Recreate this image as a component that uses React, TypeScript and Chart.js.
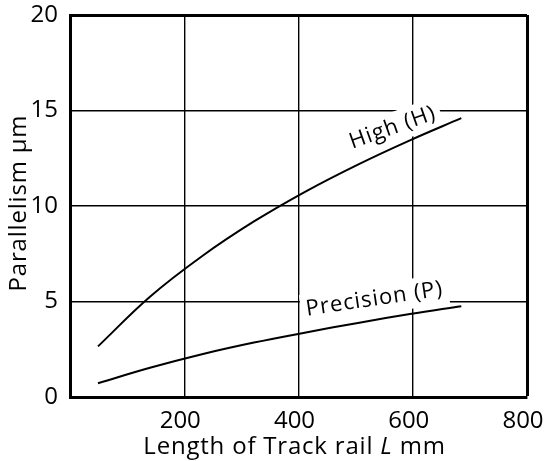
import React, { useEffect, useRef } from "react";
import { Chart, registerables } from "chart.js";

Chart.register(...registerables);

// Data
const trackLengths = [49, 140, 231, 322, 413, 504, 595, 685];
const highValues = [2.65, 5.25, 7.37, 9.19, 10.77, 12.17, 13.44, 14.6];
const precisionValues = [0.72, 1.53, 2.24, 2.85, 3.38, 3.88, 4.34, 4.75];
const xTicks = [200, 400, 600, 800];
const yTicks = [0, 5, 10, 15, 20];
const seriesNames = ["High (H)", "Precision (P)"];

const FONT = '"Open Sans", "Noto Sans", sans-serif';

const curveLabels = [
  { text: seriesNames[0], x: 565, y: 14.1, angle: 19.5 },
  { text: seriesNames[1], x: 533, y: 5.12, angle: 8.5 },
];

const curveLabelPlugin = {
  id: "curveLabels",
  beforeDatasetsDraw(chart: any) {
    const { ctx, scales } = chart;
    const xs = scales.x;
    const ys = scales.y;
    curveLabels.forEach((l) => {
      const px = xs.getPixelForValue(l.x);
      const py = ys.getPixelForValue(l.y);
      ctx.save();
      ctx.translate(px, py);
      ctx.rotate((-l.angle * Math.PI) / 180);
      ctx.font = `22px ${FONT}`;
      (ctx as any).letterSpacing = "1px";
      const w = ctx.measureText(l.text).width;
      ctx.fillStyle = "#fff";
      ctx.fillRect(-w / 2 - 5, -15, w + 10, 30);
      ctx.fillStyle = "#000";
      ctx.textAlign = "center";
      ctx.textBaseline = "middle";
      ctx.fillText(l.text, 0, 0);
      ctx.restore();
    });
  },
};

const axisTitlePlugin = {
  id: "axisTitles",
  afterDraw(chart: any) {
    const { ctx, chartArea } = chart;
    ctx.save();
    ctx.fillStyle = "#000";
    ctx.textBaseline = "alphabetic";
    ctx.textAlign = "left";
    (ctx as any).letterSpacing = "0.8px";
    const parts = [
      { t: "Length of Track rail ", f: `24px ${FONT}` },
      { t: "L", f: `italic 24px ${FONT}` },
      { t: " mm", f: `24px ${FONT}` },
    ];
    let total = 0;
    parts.forEach((p) => {
      ctx.font = p.f;
      total += ctx.measureText(p.t).width;
    });
    let x = (chartArea.left + chartArea.right) / 2 - 4 - total / 2;
    const baseY = chart.height - 7;
    parts.forEach((p) => {
      ctx.font = p.f;
      ctx.fillText(p.t, x, baseY);
      x += ctx.measureText(p.t).width;
    });
    ctx.translate(19, (chartArea.top + chartArea.bottom) / 2 - 3);
    ctx.rotate(-Math.PI / 2);
    ctx.font = `24px ${FONT}`;
    ctx.textAlign = "center";
    ctx.textBaseline = "middle";
    ctx.fillText("Parallelism μm", 0, 0);
    ctx.restore();
  },
};

export default function App() {
  const canvasRef = useRef<HTMLCanvasElement | null>(null);

  useEffect(() => {
    if (!canvasRef.current) return;
    const chart = new Chart(canvasRef.current, {
      type: "line",
      data: {
        datasets: [
          {
            label: seriesNames[0],
            data: trackLengths.map((x, i) => ({ x, y: highValues[i] })),
            borderColor: "#000",
            borderWidth: 2,
            pointRadius: 0,
            tension: 0.4,
            fill: false,
          },
          {
            label: seriesNames[1],
            data: trackLengths.map((x, i) => ({ x, y: precisionValues[i] })),
            borderColor: "#000",
            borderWidth: 2,
            pointRadius: 0,
            tension: 0.4,
            fill: false,
          },
        ],
      },
      options: {
        animation: false,
        responsive: false,
        maintainAspectRatio: false,
        layout: { padding: { top: 15, right: 18, left: 0, bottom: 0 } },
        plugins: {
          legend: { display: false },
          tooltip: { enabled: false },
        },
        scales: {
          x: {
            type: "linear",
            min: 0,
            max: 800,
            afterFit: (s: any) => {
              s.height = 64;
              s.paddingLeft = 0;
              s.paddingRight = 0;
            },
            afterBuildTicks: (s: any) => {
              s.ticks = [0, ...xTicks].map((v) => ({ value: v }));
            },
            ticks: {
              color: "#000",
              font: { family: FONT, size: 24 },
              padding: 10,
              labelOffset: -4,
              maxRotation: 0,
              callback: (v: any) => (xTicks.includes(v) ? String(v) : ""),
            },
            grid: {
              color: "#000",
              lineWidth: (c: any) => (c.tick && c.tick.value === 800 ? 3 : 1.4),
              drawTicks: false,
            },
            border: { display: true, color: "#000", width: 3 },
          },
          y: {
            type: "linear",
            min: 0,
            max: 20,
            afterFit: (s: any) => {
              s.width = 70;
              s.paddingTop = 0;
              s.paddingBottom = 0;
            },
            afterBuildTicks: (s: any) => {
              s.ticks = yTicks.map((v) => ({ value: v }));
            },
            ticks: {
              color: "#000",
              font: { family: FONT, size: 24 },
              padding: 12,
              callback: (v: any) => String(v),
            },
            grid: {
              color: "#000",
              lineWidth: (c: any) => (c.tick && c.tick.value === 20 ? 3 : 1.4),
              drawTicks: false,
            },
            border: { display: true, color: "#000", width: 3 },
          },
        },
      },
      plugins: [curveLabelPlugin, axisTitlePlugin],
    } as any);
    return () => chart.destroy();
  }, []);

  return (
    <div style={{ position: "absolute", left: 0, top: 0, width: 545, height: 461, background: "#fff" }}>
      <canvas ref={canvasRef} width={545} height={461} />
    </div>
  );
}
